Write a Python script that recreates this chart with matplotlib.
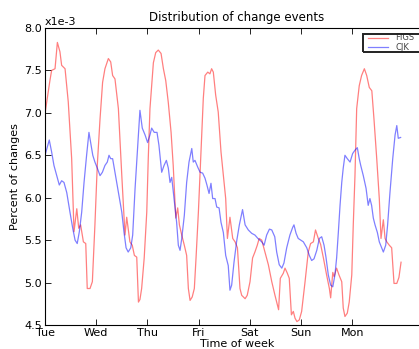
import matplotlib
matplotlib.use("Agg")
import matplotlib.pyplot as plt
from matplotlib.patches import Rectangle

# hours since Tuesday 00:00, values in units of 1e-3
figs_h = [0, 2.3, 3.1, 4.7, 5.8, 7.0, 7.8, 9.4, 10.9, 12.5, 13.6, 14.9, 15.8, 16.7, 18.0, 19.1, 19.8, 21.1, 22.2, 23.4,
          24.5, 25.8, 27.0, 28.1, 29.7, 30.8, 31.7, 32.8, 34.4, 36.0, 37.5, 38.3, 39.8, 40.9, 41.9, 43.0, 43.8, 44.5, 45.3,
          46.5, 47.7, 48.4, 49.2, 50.8, 51.9, 53.1, 54.4, 55.5, 56.6, 57.8, 59.1, 60.1, 61.3, 62.2, 63.0, 64.1, 65.3,
          66.4, 67.2, 68.0, 69.0, 70.0, 70.8, 71.9, 73.1, 74.2, 75.0, 76.3, 77.3, 78.1, 78.9, 80.0, 81.2, 82.5, 83.6,
          84.7, 85.5, 86.7, 88.0, 89.1, 90.2, 91.4, 92.2, 93.8, 94.8, 96.1, 97.3, 98.4, 99.5, 100.4, 101.6, 103.1,
          104.7, 106.3, 107.8, 109.5, 110.3, 111.7, 112.5, 113.6, 114.5, 115.5, 116.4, 117.2, 118.1, 119.2, 120.3,
          121.9, 123.4, 124.5, 125.8, 126.8, 128.1, 129.2, 130.5, 132.0, 133.3, 133.9, 134.9, 135.5, 136.7, 137.8,
          139.1, 139.8, 140.6, 141.7, 142.6, 143.8, 144.5, 145.3, 146.1, 147.3, 148.4, 149.7, 150.8, 152.0, 153.2,
          154.2, 155.5, 156.7, 157.5, 158.6, 159.4, 160.2, 161.4, 162.5, 163.6, 164.9, 165.9, 166.9]
figs_v = [6.99, 7.38, 7.5, 7.52, 7.83, 7.72, 7.56, 7.52, 7.13, 6.46, 5.6, 5.87, 5.64, 5.68, 5.48, 5.46, 4.93, 4.93, 5.01, 5.68,
          6.38, 6.93, 7.36, 7.52, 7.64, 7.6, 7.44, 7.4, 7.05, 6.26, 5.56, 5.77, 5.48, 5.44, 5.32, 5.3, 4.77, 4.8, 4.93,
          5.29, 5.83, 6.46, 7.05, 7.59, 7.71, 7.74, 7.7, 7.52, 7.38, 7.12, 6.77, 6.38, 5.76, 5.88, 5.68, 5.56, 5.44,
          5.32, 4.93, 4.79, 4.83, 4.93, 5.29, 5.83, 6.54, 7.17, 7.44, 7.48, 7.46, 7.52, 7.48, 7.21, 7.01, 6.54, 6.26,
          5.99, 5.52, 5.77, 5.52, 5.48, 5.41, 4.93, 4.85, 4.81, 4.85, 5.01, 5.29, 5.36, 5.44, 5.52, 5.5, 5.36,
          5.21, 5.01, 4.85, 4.68, 5.05, 5.11, 5.17, 5.11, 5.05, 4.62, 4.66, 4.58, 4.54, 4.56, 4.66,
          5.01, 5.36, 5.46, 5.48, 5.62, 5.52, 5.45, 5.29, 5.09, 4.93, 4.82, 5.12, 5.07, 5.17, 5.09,
          5.01, 4.7, 4.6, 4.64, 4.77, 5.09, 5.68, 6.26, 7.05, 7.32, 7.44, 7.52, 7.44, 7.3, 7.26,
          6.93, 6.46, 5.99, 5.52, 5.74, 5.52, 5.48, 5.44, 5.41, 4.99, 4.99, 5.06, 5.24]

cjk_h = [0, 2.0, 3.1, 4.2, 5.5, 6.7, 7.8, 8.9, 10.2, 11.7, 13.0, 14.1, 15.1, 16.1, 17.2, 18.3, 19.5, 20.6, 21.4, 22.4,
         23.4, 24.5, 25.8, 26.9, 28.1, 29.2, 30.0, 30.8, 31.7, 32.8, 34.4, 36.0, 37.0, 38.0, 39.0, 40.2, 41.1, 42.2,
         43.3, 44.5, 45.6, 46.9, 48.1, 49.2, 50.0, 51.2, 52.5, 53.4, 54.7, 55.8, 56.9, 57.8, 58.6, 59.4, 60.5, 61.7,
         62.5, 63.3, 64.1, 65.3, 66.4, 67.5, 68.8, 69.5, 70.3, 71.6, 72.7, 73.9, 75.0, 75.9, 76.9, 77.8, 78.6, 79.7,
         80.5, 81.6, 82.5, 83.6, 84.7, 85.9, 86.7, 87.5, 88.6, 89.8, 91.1, 92.6, 93.8, 95.3, 96.9, 98.4, 99.8, 101.6,
         102.7, 103.9, 105.2, 106.3, 107.7, 108.6, 109.8, 111.0, 112.0, 113.3, 114.8, 116.1, 116.7, 117.7, 118.7,
         119.9, 121.1, 122.7, 123.9, 125.0, 126.1, 127.4, 128.6, 129.7, 130.8, 131.7, 132.8, 133.9, 134.9, 135.9,
         136.7, 137.5, 138.3, 139.1, 139.8, 140.6, 141.7, 143.0, 144.2, 145.3, 146.4, 147.3, 148.0, 149.2, 150.5,
         151.5, 152.3, 153.1, 153.9, 154.7, 155.8, 156.7, 157.8, 158.6, 159.7, 160.6, 161.7, 163.0, 164.1, 164.9,
         165.6, 166.7]
cjk_v = [6.5, 6.68, 6.54, 6.38, 6.26, 6.15, 6.2, 6.18, 6.06, 5.83, 5.64, 5.5, 5.46, 5.6, 5.83, 6.18, 6.5, 6.77, 6.65, 6.5,
         6.42, 6.35, 6.26, 6.3, 6.38, 6.42, 6.5, 6.46, 6.46, 6.3, 6.06, 5.83, 5.6, 5.41, 5.36, 5.41, 5.56, 6.1,
         6.54, 7.03, 6.82, 6.74, 6.65, 6.74, 6.82, 6.77, 6.77, 6.62, 6.3, 6.38, 6.44, 6.35, 6.18, 6.24, 5.99, 5.71,
         5.44, 5.38, 5.52, 5.79, 6.18, 6.42, 6.58, 6.42, 6.44, 6.36, 6.3, 6.29, 6.23, 6.15, 6.05, 6.17, 5.99, 5.99,
         5.89, 5.88, 5.71, 5.59, 5.32, 5.2, 4.91, 4.97, 5.24, 5.48, 5.68, 5.86, 5.68, 5.62, 5.58, 5.56, 5.52, 5.48,
         5.44, 5.56, 5.63, 5.62, 5.54, 5.36, 5.21, 5.17, 5.23, 5.41, 5.56, 5.65, 5.68, 5.58, 5.52,
         5.5, 5.48, 5.41, 5.32, 5.26, 5.28, 5.38, 5.52, 5.54, 5.44, 5.3, 5.09, 4.97, 4.95, 5.09,
         5.29, 5.59, 5.91, 6.18, 6.35, 6.5, 6.46, 6.42, 6.52, 6.56, 6.59, 6.46, 6.38, 6.26, 6.11,
         5.91, 5.99, 5.91, 5.76, 5.68, 5.59, 5.48, 5.41, 5.36, 5.44, 5.68, 6.06, 6.46, 6.74, 6.85,
         6.7, 6.71]

day_ticks = [0, 24, 48, 72, 96, 120, 144]
day_labels = ["Tue", "Wed", "Thu", "Fri", "Sat", "Sun", "Mon"]
y_ticks = [4.5, 5.0, 5.5, 6.0, 6.5, 7.0, 7.5, 8.0]

W, H = 419, 349
fig = plt.figure(figsize=(W / 100, H / 100), dpi=100)
ax = fig.add_axes([45 / W, (H - 325) / H, (429 - 45) / W, (325 - 28) / H])

ax.plot(figs_h, figs_v, color="red", alpha=0.5, lw=0.9, label="FIGS")
ax.plot(cjk_h, cjk_v, color="blue", alpha=0.5, lw=0.9, label="CJK")

ax.set_xlim(0, 180)
ax.set_ylim(4.5, 8.0)
ax.set_xticks(day_ticks)
ax.set_xticklabels(day_labels)
ax.set_yticks(y_ticks)
ax.set_yticklabels([f"{v:.1f}" for v in y_ticks])
ax.tick_params(direction="in", top=True, right=True, labelsize=8, length=4, width=0.6, pad=2)
for s in ax.spines.values():
    s.set_linewidth(0.8)

ax.set_title("Distribution of change events", fontsize=8.5, pad=5)
ax.set_xlabel("Time of week", fontsize=8, labelpad=1)
ax.set_ylabel("Percent of changes", fontsize=8, labelpad=3)
ax.text(0.0, 1.005, "x1e-3", transform=ax.transAxes, fontsize=8, ha="left", va="bottom")

# legend: frame drawn separately so its padding can match the reference
leg = ax.legend(loc="upper left", bbox_to_anchor=(368 / W, 1 - 33.5 / H), bbox_transform=fig.transFigure,
                fontsize=6, frameon=False, borderaxespad=0, borderpad=0, handlelength=2.4,
                handletextpad=0.9, labelspacing=0.05)
for t in leg.get_texts():
    t.set_color("#444444")
fig.patches.append(Rectangle((362.5 / W, 1 - 51.7 / H), 80 / W, 17.7 / H, transform=fig.transFigure,
                             fill=False, edgecolor="#222222", linewidth=1.4, zorder=5))

fig.savefig("out.png", dpi=100)
